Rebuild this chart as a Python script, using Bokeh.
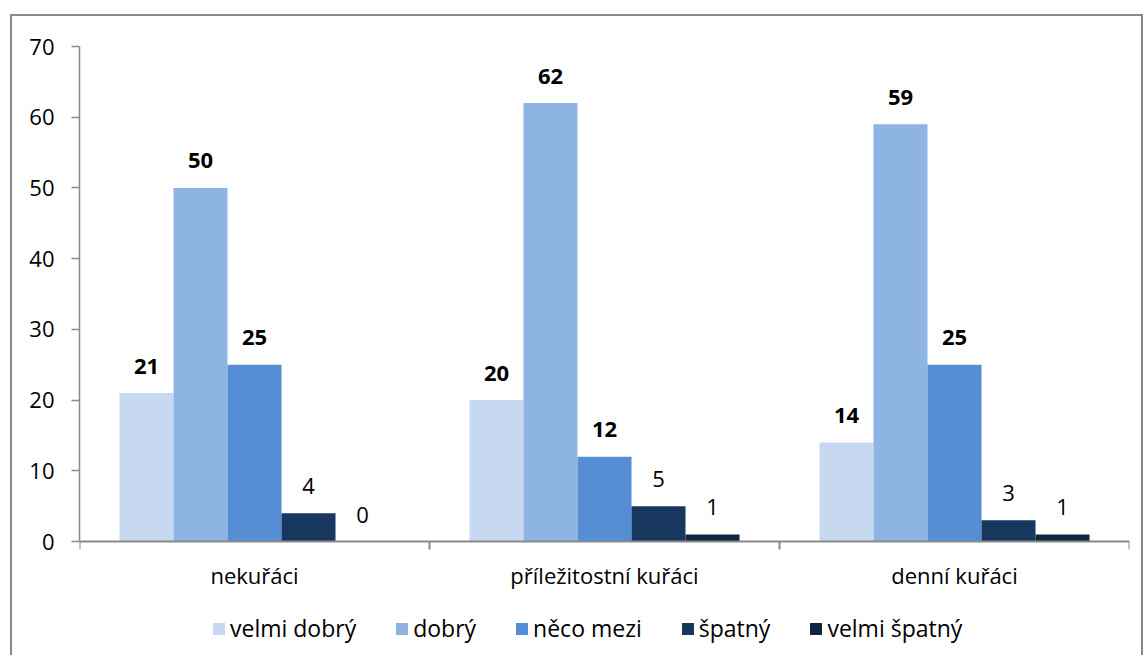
from bokeh.plotting import figure
from bokeh.models import (ColumnDataSource, Range1d, FixedTicker, LinearAxis,
                          Legend, LegendItem)
from bokeh.transform import dodge
from bokeh.core.properties import value
from bokeh.embed import file_html
from bokeh.resources import INLINE

categories = ["nekuřáci", "příležitostní kuřáci", "denní kuřáci"]
series_names = ["velmi dobrý", "dobrý", "něco mezi", "špatný", "velmi špatný"]
velmi_dobry = [21, 20, 14]
dobry = [50, 62, 59]
neco_mezi = [25, 12, 25]
spatny = [4, 5, 3]
velmi_spatny = [0, 1, 1]
colors = ["#C6D9F1", "#8EB4E3", "#558ED5", "#17375E", "#10253F"]
y_ticks = [0, 10, 20, 30, 40, 50, 60, 70]

FONT = "Open Sans"
GRAY = "#898989"
FS = "22px"

all_series = [velmi_dobry, dobry, neco_mezi, spatny, velmi_spatny]
x_centers = [i + 0.5 for i in range(len(categories))]

data = dict(x=x_centers, cat=categories)
for i, vals in enumerate(all_series):
    data[f"s{i}"] = vals
    data[f"t{i}"] = [str(v) for v in vals]
src = ColumnDataSource(data)

# frame extends below zero so that category labels and legend sit inside it
p = figure(frame_width=1050, frame_height=609, x_range=Range1d(0, 3),
           y_range=Range1d(-16.12, 70),
           output_backend="svg", toolbar_location=None, x_axis_type=None,
           min_border_left=67, min_border_right=12, min_border_top=30,
           min_border_bottom=0)
p.margin = (14, 0, 0, 10)
p.styles = {"border-top": "2px solid #898989", "border-left": "2px solid #898989",
            "border-right": "2px solid #898989", "box-sizing": "border-box"}
p.outline_line_color = None
p.grid.visible = False
p.background_fill_color = "white"
p.border_fill_color = "white"

w = 0.1543
renderers = []
for i, (name, col) in enumerate(zip(series_names, colors)):
    off = (i - 2) * w
    r = p.vbar(x=dodge("x", off, range=p.x_range), top=f"s{i}", width=w, source=src,
               fill_color=col, line_color=None)
    renderers.append(r)
    p.text(x=dodge("x", off, range=p.x_range), y=f"s{i}", text=f"t{i}", source=src,
           text_align="center", text_baseline="middle", y_offset=-27,
           text_font=value(FONT), text_font_size=FS, text_color="black",
           text_font_style="bold" if i < 3 else "normal")

# y axis
ya = p.yaxis[0]
ya.ticker = FixedTicker(ticks=y_ticks)
ya.bounds = (0, 70)
ya.axis_line_color = GRAY
ya.axis_line_width = 1.5
ya.major_tick_line_color = GRAY
ya.major_tick_line_width = 1.5
ya.major_tick_out = 8
ya.major_tick_in = 0
ya.minor_tick_line_color = None
ya.major_label_standoff = 17
ya.major_label_text_font = FONT
ya.major_label_text_font_size = FS
ya.major_label_text_color = "black"

# x axis at y = 0: labels at category centres, ticks at boundaries (minor)
xa = LinearAxis(ticker=FixedTicker(ticks=x_centers, minor_ticks=[0, 1, 2, 3]),
                major_label_overrides={x_centers[i]: categories[i] for i in range(len(categories))},
                fixed_location=0)
xa.axis_line_color = GRAY
xa.axis_line_width = 2
xa.major_tick_out = 0
xa.major_tick_in = 0
xa.major_tick_line_color = None
xa.minor_tick_line_color = GRAY
xa.minor_tick_line_width = 2
xa.minor_tick_out = 8
xa.minor_tick_in = 0
xa.major_label_standoff = 10
xa.major_label_text_font = FONT
xa.major_label_text_font_size = FS
xa.major_label_text_color = "black"
p.add_layout(xa, "below")

legend = Legend(items=[LegendItem(label=n, renderers=[r]) for n, r in zip(series_names, renderers)],
                orientation="horizontal", location=(132, 11))
legend.glyph_width = 15
legend.glyph_height = 15
legend.label_standoff = 4
legend.spacing = 38
legend.label_text_font = FONT
legend.label_text_font_size = "23px"
legend.label_text_color = "black"
legend.border_line_color = None
legend.background_fill_alpha = 0
legend.margin = 0
legend.padding = 4
p.add_layout(legend, "center")

open("out.html", "w").write(file_html(p, INLINE))
